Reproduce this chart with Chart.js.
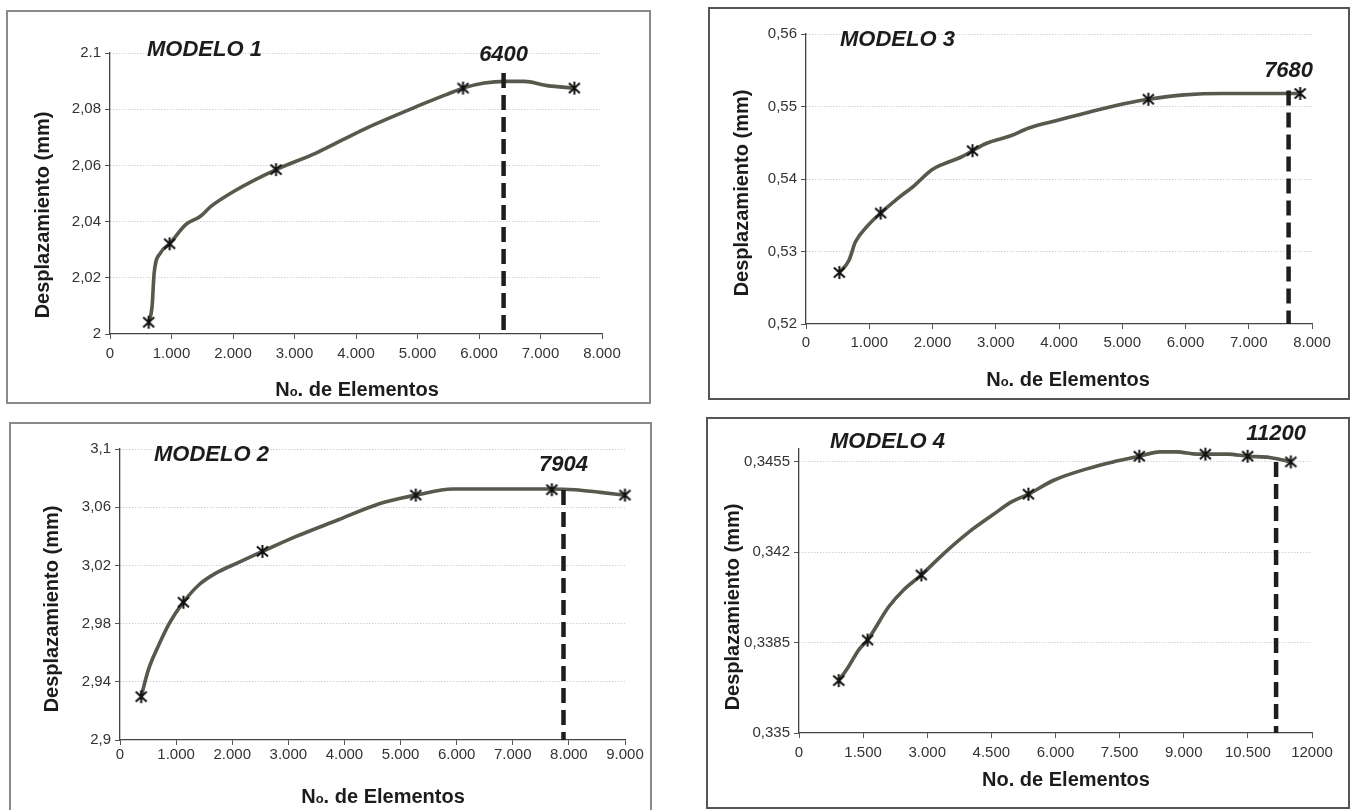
<!DOCTYPE html>
<html><head><meta charset="utf-8">
<script src="https://cdn.jsdelivr.net/npm/chart.js@4.4.0/dist/chart.umd.min.js"></script>
<style>
html,body{margin:0;padding:0;background:#fff;width:1352px;height:810px;overflow:hidden;position:relative}
canvas{position:absolute}
.box{position:absolute;box-sizing:border-box;pointer-events:none}
</style></head><body>
<canvas id="c1"></canvas><canvas id="c2"></canvas><canvas id="c3"></canvas><canvas id="c4"></canvas>
<div class="box" style="left:6px;top:10px;width:645px;height:394px;border:2px solid #8a8a8a"></div>
<div class="box" style="left:9px;top:422px;width:643px;height:400px;border:2px solid #8a8a8a"></div>
<div class="box" style="left:708px;top:7px;width:642px;height:393px;border:2px solid #555"></div>
<div class="box" style="left:706px;top:417px;width:644px;height:392px;border:2px solid #555"></div>
<script>
// ---------- DATA ----------
const modelNames = ['MODELO 1', 'MODELO 2', 'MODELO 3', 'MODELO 4'];
const cutLabels = ['6400', '7904', '7680', '11200'];
const cutX = [6400, 7904, 7630, 11160];
const cutTop = [2.0929, 3.0718, 0.5522, 0.3455];

// Modelo 1
const m1CurveX = [630, 684, 718, 820, 970, 1231, 1470, 1641, 2017, 2700, 3350, 4171, 5060, 5470, 5740, 6085, 6427, 6735, 7111, 7550];
const m1CurveY = [2.0042, 2.0098, 2.0217, 2.0288, 2.0321, 2.0389, 2.0419, 2.0454, 2.0508, 2.0585, 2.0644, 2.0733, 2.0816, 2.0852, 2.0875, 2.0893, 2.0899, 2.0899, 2.0884, 2.0875];
const m1MarkX = [630, 970, 2700, 5740, 7550];
const m1MarkY = [2.0042, 2.0321, 2.0585, 2.0875, 2.0875];
const m1XTicks = [0, 1000, 2000, 3000, 4000, 5000, 6000, 7000, 8000];
const m1XLabels = ['0', '1.000', '2.000', '3.000', '4.000', '5.000', '6.000', '7.000', '8.000'];
const m1YTicks = [2, 2.02, 2.04, 2.06, 2.08, 2.1];
const m1YLabels = ['2', '2,02', '2,04', '2,06', '2,08', '2.1'];

// Modelo 2
const m2CurveX = [377, 505, 693, 881, 1130, 1408, 1709, 2086, 2538, 3140, 3893, 4571, 5023, 5271, 5926, 7658, 8110, 8562, 8999];
const m2CurveY = [2.9298, 2.9482, 2.9654, 2.9803, 2.9947, 3.0067, 3.0147, 3.0216, 3.0296, 3.0399, 3.0514, 3.0617, 3.0663, 3.0683, 3.0725, 3.0725, 3.0720, 3.0702, 3.0683];
const m2MarkX = [377, 1130, 2538, 5271, 7696, 8999];
const m2MarkY = [2.9298, 2.9947, 3.0296, 3.0683, 3.0720, 3.0683];
const m2XTicks = [0, 1000, 2000, 3000, 4000, 5000, 6000, 7000, 8000, 9000];
const m2XLabels = ['0', '1.000', '2.000', '3.000', '4.000', '5.000', '6.000', '7.000', '8.000', '9.000'];
const m2YTicks = [2.9, 2.94, 2.98, 3.02, 3.06, 3.1];
const m2YLabels = ['2,9', '2,94', '2,98', '3,02', '3,06', '3,1'];

// Modelo 3
const m3CurveX = [527, 680, 780, 980, 1180, 1447, 1713, 1980, 2180, 2447, 2633, 2847, 3247, 3513, 3980, 4513, 5047, 5413, 5980, 6580, 7613, 7813];
const m3CurveY = [0.5271, 0.5288, 0.5313, 0.5336, 0.5353, 0.5373, 0.5391, 0.5412, 0.5421, 0.5430, 0.5439, 0.5449, 0.5460, 0.5470, 0.5481, 0.5493, 0.5504, 0.5510, 0.5516, 0.5518, 0.5518, 0.5518];
const m3MarkX = [527, 1180, 2633, 5413, 7813];
const m3MarkY = [0.5271, 0.5353, 0.5439, 0.5510, 0.5518];
const m3XTicks = [0, 1000, 2000, 3000, 4000, 5000, 6000, 7000, 8000];
const m3XLabels = ['0', '1.000', '2.000', '3.000', '4.000', '5.000', '6.000', '7.000', '8.000'];
const m3YTicks = [0.52, 0.53, 0.54, 0.55, 0.56];
const m3YLabels = ['0,52', '0,53', '0,54', '0,55', '0,56'];

// Modelo 4
const m4CurveX = [931, 1158, 1406, 1604, 2099, 2446, 2861, 3386, 3980, 4525, 4970, 5366, 5960, 6752, 7347, 7960, 8436, 8832, 9327, 9505, 10020, 10495, 11010, 11505];
const m4CurveY = [0.33703, 0.33757, 0.33824, 0.3386, 0.33989, 0.34054, 0.34112, 0.34195, 0.34279, 0.34344, 0.34395, 0.34425, 0.34479, 0.34524, 0.3455, 0.34572, 0.34589, 0.34589, 0.3458, 0.3458, 0.3458, 0.34572, 0.34567, 0.3455];
const m4MarkX = [931, 1604, 2861, 5366, 7960, 9505, 10495, 11505];
const m4MarkY = [0.33703, 0.3386, 0.34112, 0.34425, 0.34572, 0.3458, 0.34572, 0.3455];
const m4XTicks = [0, 1500, 3000, 4500, 6000, 7500, 9000, 10500, 12000];
const m4XLabels = ['0', '1.500', '3.000', '4.500', '6.000', '7.500', '9.000', '10.500', '12000'];
const m4YTicks = [0.335, 0.3385, 0.342, 0.3455];
const m4YLabels = ['0,335', '0,3385', '0,342', '0,3455'];

// ---------- RENDER ----------
const FONT = '"Liberation Sans", Arial, Helvetica, sans-serif';
Chart.defaults.font.family = FONT;

function makeStar() {
  const c = document.createElement('canvas');
  c.width = 15; c.height = 15;
  const g = c.getContext('2d');
  g.strokeStyle = '#111'; g.lineWidth = 2;
  g.beginPath();
  g.moveTo(7.5, 1); g.lineTo(7.5, 14);
  g.moveTo(2, 2.5); g.lineTo(13, 12.5);
  g.moveTo(13, 2.5); g.lineTo(2, 12.5);
  g.stroke();
  return c;
}
const starImg = makeStar();

const decoPlugin = {
  id: 'deco',
  afterDraw(chart, args, o) {
    const ctx = chart.ctx;
    const ox = o.box[0], oy = o.box[1];
    ctx.save();
    ctx.fillStyle = '#1c1c1c';
    ctx.textBaseline = 'middle';
    ctx.font = 'italic bold 22px ' + FONT;
    ctx.textAlign = 'left';
    ctx.fillText(o.model, o.modelPos[0] - ox, o.modelPos[1] - oy);
    ctx.textAlign = 'center';
    ctx.fillText(o.cutLabel, chart.scales.x.getPixelForValue(o.cutValue), o.cutLabelY - oy);
    // y title
    ctx.font = 'bold 20px ' + FONT;
    ctx.save();
    ctx.translate(o.yTitlePos[0] - ox, o.yTitlePos[1] - oy);
    ctx.rotate(-Math.PI / 2);
    ctx.fillText('Desplazamiento (mm)', 0, 0);
    ctx.restore();
    // x title
    ctx.textBaseline = 'alphabetic';
    ctx.textAlign = 'left';
    const big = 'bold 20px ' + FONT, small = 'bold 13px ' + FONT;
    const parts = o.subO ? [['N', big], ['o', small], ['. de Elementos', big]] : [['No. de Elementos', big]];
    let w = 0;
    parts.forEach(p => { ctx.font = p[1]; w += ctx.measureText(p[0]).width; });
    let x = o.xTitlePos[0] - ox - w / 2;
    const by = o.xTitlePos[1] - oy + 7;
    parts.forEach(p => { ctx.font = p[1]; ctx.fillText(p[0], x, by); x += ctx.measureText(p[0]).width; });
    ctx.restore();
  }
};

function build(id, idx, box, area, xMax, yMin, yMax, xTicks, xLabels, yTicks, yLabels,
               curveX, curveY, markX, markY, xPad, deco) {
  const cv = document.getElementById(id);
  const W = box[2] - box[0], H = box[3] - box[1];
  cv.width = W; cv.height = H;
  cv.style.left = box[0] + 'px'; cv.style.top = box[1] + 'px';
  cv.style.width = W + 'px'; cv.style.height = H + 'px';
  const leftW = area[0] - box[0];
  const bottomH = box[3] - area[3];
  new Chart(cv, {
    type: 'scatter',
    data: {
      datasets: [
        { data: markX.map((x, i) => ({ x, y: markY[i] })), pointStyle: starImg, pointRadius: 7,
          showLine: false, clip: false },
        { data: [{ x: cutX[idx], y: cutTop[idx] }, { x: cutX[idx], y: yMin }], showLine: true,
          borderColor: '#1e1e1e', borderWidth: 4.5, borderDash: [15, 7], pointRadius: 0, clip: false },
        { data: curveX.map((x, i) => ({ x, y: curveY[i] })), showLine: true, borderColor: '#58584c',
          borderWidth: 3.6, pointRadius: 0, cubicInterpolationMode: 'monotone', clip: false }
      ]
    },
    options: {
      responsive: false, animation: false, devicePixelRatio: 1,
      layout: { padding: { left: 0, top: area[1] - box[1], right: box[2] - area[2], bottom: 0 } },
      plugins: { legend: { display: false }, tooltip: { enabled: false }, deco: deco },
      scales: {
        x: {
          type: 'linear', min: 0, max: xMax,
          afterBuildTicks: s => { s.ticks = xTicks.map(v => ({ value: v })); },
          afterFit: s => { s.height = bottomH; },
          ticks: { callback: (v, i) => xLabels[i], font: { size: 15 }, color: '#333', padding: xPad,
                   maxRotation: 0, autoSkip: false },
          grid: { drawOnChartArea: false, drawTicks: true, tickLength: 5, tickColor: '#555', tickWidth: 1 },
          border: { display: true, color: '#444', width: 1.3 }
        },
        y: {
          type: 'linear', min: yMin, max: yMax,
          afterBuildTicks: s => { s.ticks = yTicks.map(v => ({ value: v })); },
          afterFit: s => { s.width = leftW; },
          ticks: { callback: (v, i) => yLabels[i], font: { size: 15 }, color: '#333', padding: 4, autoSkip: false },
          grid: { drawOnChartArea: true, drawTicks: true, tickLength: 5, tickColor: '#555', tickWidth: 1,
                  color: c => (c.index === 0 ? 'rgba(0,0,0,0)' : '#bdbdbd'), lineWidth: 1, tickBorderDash: [] },
          border: { display: true, color: '#444', width: 1.3, dash: [1, 2] }
        }
      }
    },
    plugins: [decoPlugin]
  });
}

build('c1', 0, [6, 10, 650, 403], [110, 53, 602, 334], 8000, 2, 2.1, m1XTicks, m1XLabels, m1YTicks, m1YLabels,
  m1CurveX, m1CurveY, m1MarkX, m1MarkY, 6,
  { box: [6, 10], model: modelNames[0], modelPos: [147, 50], cutLabel: cutLabels[0], cutValue: cutX[0], cutLabelY: 55,
    yTitlePos: [43, 215], xTitlePos: [357, 389], subO: true });

build('c2', 1, [9, 422, 651, 812], [120, 449, 625, 740], 9000, 2.9, 3.1, m2XTicks, m2XLabels, m2YTicks, m2YLabels,
  m2CurveX, m2CurveY, m2MarkX, m2MarkY, 1,
  { box: [9, 422], model: modelNames[1], modelPos: [154, 455], cutLabel: cutLabels[1], cutValue: cutX[1], cutLabelY: 465,
    yTitlePos: [52, 609], xTitlePos: [383, 796], subO: true });

build('c3', 2, [708, 7, 1349, 399], [806, 34, 1312, 324], 8000, 0.52, 0.56, m3XTicks, m3XLabels, m3YTicks, m3YLabels,
  m3CurveX, m3CurveY, m3MarkX, m3MarkY, 5,
  { box: [708, 7], model: modelNames[2], modelPos: [840, 40], cutLabel: cutLabels[2], cutValue: cutX[2], cutLabelY: 71,
    yTitlePos: [742, 193], xTitlePos: [1068, 379], subO: true });

build('c4', 3, [706, 417, 1349, 808], [799, 449, 1312, 733], 12000, 0.335, 0.346, m4XTicks, m4XLabels, m4YTicks, m4YLabels,
  m4CurveX, m4CurveY, m4MarkX, m4MarkY, 6,
  { box: [706, 417], model: modelNames[3], modelPos: [830, 442], cutLabel: cutLabels[3], cutValue: cutX[3], cutLabelY: 434,
    yTitlePos: [733, 607], xTitlePos: [1066, 779], subO: false });
</script>
</body></html>
